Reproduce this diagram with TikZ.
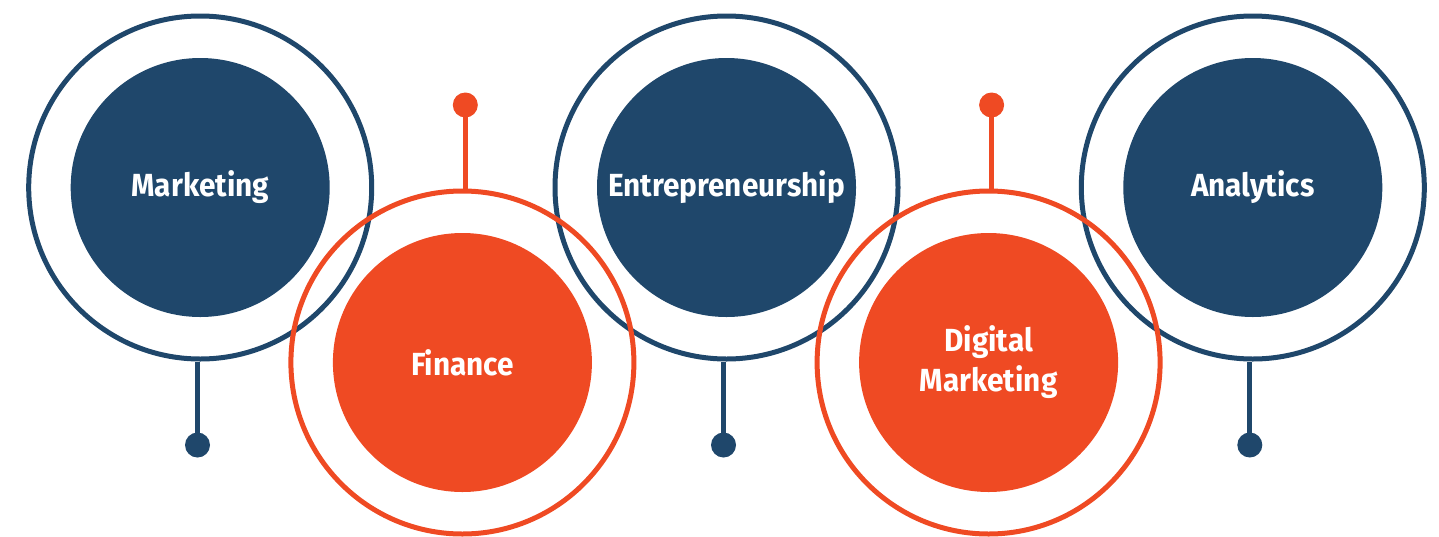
\documentclass[tikz,border=0pt]{standalone}
\usepackage{fontspec}
\setmainfont{Fira Sans}
\newfontfamily\lblfont{Fira Sans Bold}[FakeStretch=0.93]
\definecolor{navy}{HTML}{1F476B}
\definecolor{flame}{HTML}{EF4A23}
\begin{document}
\begin{tikzpicture}[x=1pt,y=-1pt,
  ring/.style={circle,draw=#1,line width=5pt,inner sep=0pt,minimum size=343pt},
  core/.style={circle,fill=#1,inner sep=0pt,minimum size=259pt,text=white,align=center,
    font=\lblfont\fontsize{32}{40}\selectfont},
  knob/.style={circle,fill=#1,inner sep=0pt,minimum size=25pt},
  stem/.style={draw=#1,line width=5pt}]
\useasboundingbox (0,0) rectangle (1439,536);
% blue items
\node[ring=navy] (r1) at (200.2,187.5) {};
\node[core=navy] (c1) at (200.2,187.5) {Marketing};
\node[knob=navy] (k1) at (197.5,445) {};
\draw[stem=navy] (k1.center) -- (k1.center |- r1.south);
\node[ring=navy] (r3) at (726.5,187.5) {};
\node[core=navy] (c3) at (726.5,187.5) {Entrepreneurship};
\node[knob=navy] (k3) at (723.5,445) {};
\draw[stem=navy] (k3.center) -- (k3.center |- r3.south);
\node[ring=navy] (r5) at (1252.8,187.5) {};
\node[core=navy] (c5) at (1252.8,187.5) {Analytics};
\node[knob=navy] (k5) at (1249.8,445) {};
\draw[stem=navy] (k5.center) -- (k5.center |- r5.south);
% orange items
\node[ring=flame] (r2) at (462.4,362.5) {};
\node[core=flame] (c2) at (462.4,362.5) {Finance};
\node[knob=flame] (k2) at (465.3,105) {};
\draw[stem=flame] (k2.center) -- (k2.center |- r2.north);
\node[ring=flame] (r4) at (988.6,362.5) {};
\node[core=flame] (c4) at (988.6,362.5) {Digital\\Marketing};
\node[knob=flame] (k4) at (991.6,105) {};
\draw[stem=flame] (k4.center) -- (k4.center |- r4.north);
\end{tikzpicture}
\end{document}
